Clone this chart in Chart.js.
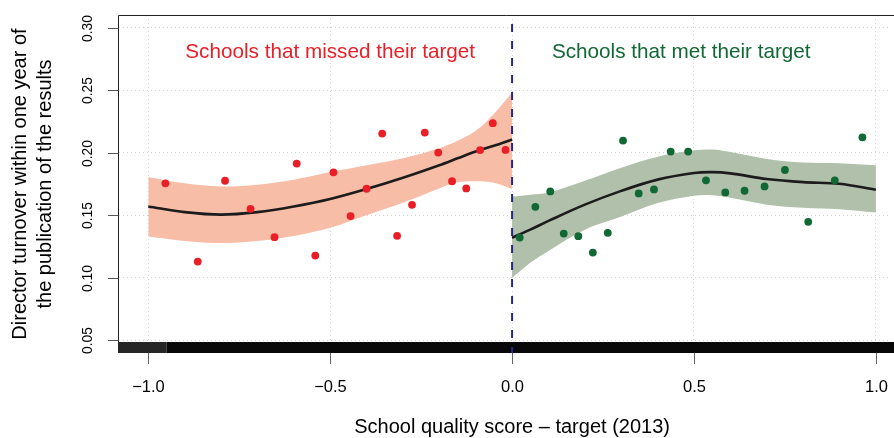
<!DOCTYPE html>
<html><head><meta charset="utf-8">
<script src="https://cdn.jsdelivr.net/npm/chart.js@4"></script>
<style>html,body{margin:0;padding:0;background:#fff}canvas{display:block}</style>
</head><body>
<canvas id="c" width="894" height="438"></canvas>
<script>
// ---- ticks & labels ----
const xTicks = [-1.0, -0.5, 0.0, 0.5, 1.0];
const xTickLabels = ['\u22121.0', '\u22120.5', '0.0', '0.5', '1.0'];
const yTicks = [0.05, 0.10, 0.15, 0.20, 0.25, 0.30];
const yTickLabels = ['0.05', '0.10', '0.15', '0.20', '0.25', '0.30'];
const xTitle = 'School quality score \u2013 target (2013)';
const yTitle = ['Director turnover within one year of', 'the publication of the results'];
const groupLabels = ['Schools that missed their target', 'Schools that met their target'];
const groupLabelX = [-0.5, 0.465];
const groupLabelY = [0.28, 0.28];
const cutoff = 0.0;
const xRange = [-1.0805, 1.0388];
const yRange = [0.04, 0.31];
const rugRange = [-1.0805, 1.08];
const rugDenseStart = -0.95;

// ---- binned means: schools that missed their target ----
const missedX = [-0.953, -0.864, -0.789, -0.719, -0.653, -0.592, -0.541, -0.491, -0.444, -0.400,
                 -0.357, -0.316, -0.275, -0.240, -0.203, -0.165, -0.126, -0.088, -0.053, -0.018];
const missedY = [0.1755, 0.113, 0.1776, 0.1552, 0.1325, 0.1913, 0.1178, 0.1843, 0.1494, 0.1712,
                 0.2153, 0.1336, 0.1584, 0.2161, 0.2001, 0.1772, 0.1715, 0.2021, 0.2236, 0.2022];

// ---- binned means: schools that met their target ----
const metX = [0.021, 0.064, 0.105, 0.142, 0.182, 0.222, 0.263, 0.305, 0.348, 0.390,
              0.436, 0.484, 0.533, 0.586, 0.639, 0.694, 0.750, 0.814, 0.887, 0.963];
const metY = [0.1322, 0.1568, 0.1691, 0.1354, 0.1333, 0.1202, 0.1360, 0.2097, 0.1675, 0.1707,
              0.2009, 0.2009, 0.1779, 0.1683, 0.1696, 0.1731, 0.1862, 0.1448, 0.1779, 0.2123];

// ---- local fit + confidence band (missed) ----
const missedFitX = [-1.0, -0.9, -0.8, -0.7, -0.6, -0.5, -0.4, -0.3, -0.2, -0.15, -0.1, -0.05, 0.0];
const missedFit  = [0.157, 0.1525, 0.1505, 0.1525, 0.157, 0.163, 0.171, 0.180, 0.190, 0.1955, 0.201, 0.2055, 0.2105];
const missedUp   = [0.1806, 0.1755, 0.173, 0.1745, 0.1784, 0.1845, 0.190, 0.1955, 0.2035, 0.2095, 0.2175, 0.231, 0.248];
const missedLo   = [0.133, 0.1295, 0.1278, 0.1295, 0.1335, 0.140, 0.150, 0.160, 0.1715, 0.1763, 0.1772, 0.176, 0.171];

// ---- local fit + confidence band (met) ----
const metFitX = [0.0, 0.05, 0.1, 0.2, 0.3, 0.4, 0.5, 0.55, 0.6, 0.7, 0.8, 0.9, 1.0];
const metFit  = [0.132, 0.1385, 0.1455, 0.1585, 0.1695, 0.1785, 0.1838, 0.1845, 0.1835, 0.179, 0.1765, 0.1752, 0.1704];
const metUp   = [0.165, 0.1665, 0.168, 0.1775, 0.188, 0.1968, 0.2019, 0.2025, 0.2005, 0.195, 0.1922, 0.1916, 0.1899];
const metLo   = [0.100, 0.112, 0.1215, 0.1385, 0.149, 0.1598, 0.1656, 0.166, 0.164, 0.1585, 0.156, 0.1548, 0.1522];

const pts = (xs, ys) => xs.map((x, i) => ({x, y: ys[i]}));
const FONT = '"Liberation Sans", Arial, Helvetica, sans-serif';
const RED = 'rgb(234,30,38)';
const GREEN = 'rgb(16,104,52)';

function band(xs, ys, fill, color, order) {
  return {data: pts(xs, ys), showLine: true, pointRadius: 0, borderWidth: 0, borderColor: 'rgba(0,0,0,0)',
          backgroundColor: color, fill: fill, tension: 0.35, order: order};
}
function fitLine(xs, ys) {
  return {data: pts(xs, ys), showLine: true, pointRadius: 0, borderWidth: 2.6, borderColor: '#1c1c1c',
          fill: false, tension: 0.35, order: 2};
}
function dots(xs, ys, color) {
  return {data: pts(xs, ys), pointRadius: 3.9, pointBorderWidth: 0, backgroundColor: color,
          borderColor: color, order: 1};
}

const decor = {
  id: 'decor',
  afterDatasetsDraw(chart) {
    const {ctx, chartArea: a, scales: {x, y}} = chart;
    ctx.save();
    // rug along the bottom edge (plot region continues past the canvas edge)
    const rugTop = a.bottom - 11;
    const r0 = x.getPixelForValue(rugRange[0]), r1 = x.getPixelForValue(rugDenseStart);
    const r2 = Math.max(x.getPixelForValue(rugRange[1]), chart.width);
    ctx.fillStyle = '#262626';
    ctx.fillRect(r0, rugTop, r1 - r0, a.bottom - rugTop);
    ctx.fillStyle = '#080808';
    ctx.fillRect(r1, rugTop, r2 - r1, a.bottom - rugTop);
    // cutoff line
    const cx = x.getPixelForValue(cutoff);
    ctx.strokeStyle = 'rgb(38,38,140)';
    ctx.lineWidth = 2;
    ctx.setLineDash([8, 9]);
    ctx.lineDashOffset = 8;
    ctx.beginPath(); ctx.moveTo(cx, a.top); ctx.lineTo(cx, a.bottom); ctx.stroke();
    ctx.setLineDash([]);
    // group labels
    ctx.font = '20.7px ' + FONT;
    ctx.textAlign = 'center';
    ctx.textBaseline = 'middle';
    const cols = [RED, GREEN];
    groupLabels.forEach((t, i) => {
      ctx.fillStyle = cols[i];
      ctx.fillText(t, x.getPixelForValue(groupLabelX[i]), y.getPixelForValue(groupLabelY[i]));
    });
    ctx.restore();
  },
  afterDraw(chart) {
    const {ctx, chartArea: a, scales: {x, y}} = chart;
    ctx.save();
    // box (top and left edges visible)
    ctx.strokeStyle = '#222';
    ctx.lineWidth = 1;
    ctx.beginPath();
    ctx.moveTo(a.left - 0.5, a.bottom); ctx.lineTo(a.left - 0.5, a.top + 0.5); ctx.lineTo(chart.width, a.top + 0.5);
    ctx.stroke();
    // x ticks and labels
    ctx.strokeStyle = '#666';
    ctx.fillStyle = '#000';
    ctx.font = '16.5px ' + FONT;
    ctx.textAlign = 'center';
    ctx.textBaseline = 'alphabetic';
    xTicks.forEach((v, i) => {
      const px = Math.round(x.getPixelForValue(v)) + 0.5;
      ctx.beginPath(); ctx.moveTo(px, a.bottom); ctx.lineTo(px, a.bottom + 11); ctx.stroke();
      ctx.fillText(xTickLabels[i], px, 392);
    });
    // y ticks and labels (rotated)
    ctx.strokeStyle = '#555';
    ctx.font = '13.8px ' + FONT;
    yTicks.forEach((v, i) => {
      const py = Math.round(y.getPixelForValue(v)) + 0.5;
      ctx.beginPath(); ctx.moveTo(a.left - 11, py); ctx.lineTo(a.left - 0.5, py); ctx.stroke();
      ctx.save();
      ctx.translate(92, py);
      ctx.rotate(-Math.PI / 2);
      ctx.fillText(yTickLabels[i], 0, 0);
      ctx.restore();
    });
    // axis titles
    ctx.font = '20px ' + FONT;
    ctx.fillText(xTitle, x.getPixelForValue(0), 433);
    const cy = (a.top + a.bottom) / 2;
    [26, 51].forEach((bx, i) => {
      ctx.save();
      ctx.translate(bx, cy);
      ctx.rotate(-Math.PI / 2);
      ctx.fillText(yTitle[i], 0, 0);
      ctx.restore();
    });
    ctx.restore();
  }
};

new Chart(document.getElementById('c'), {
  type: 'scatter',
  data: {
    datasets: [
      band(missedFitX, missedUp, '+1', 'rgb(248,189,166)', 3),
      band(missedFitX, missedLo, false, 'rgb(248,189,166)', 3),
      band(metFitX, metUp, '+1', 'rgb(176,192,170)', 3),
      band(metFitX, metLo, false, 'rgb(176,192,170)', 3),
      fitLine(missedFitX, missedFit),
      fitLine(metFitX, metFit),
      dots(missedX, missedY, RED),
      dots(metX, metY, GREEN)
    ]
  },
  options: {
    responsive: false,
    devicePixelRatio: 1,
    animation: false,
    layout: {padding: {left: 119, top: 15, right: 0, bottom: 85}},
    plugins: {legend: {display: false}, tooltip: {enabled: false}},
    scales: {
      x: {
        type: 'linear', min: xRange[0], max: xRange[1],
        afterBuildTicks: s => { s.ticks = xTicks.map(v => ({value: v})); },
        ticks: {display: false},
        grid: {color: '#d4d4d4', lineWidth: 1, drawTicks: false},
        border: {display: false, dash: [1, 3]}
      },
      y: {
        type: 'linear', min: yRange[0], max: yRange[1],
        afterBuildTicks: s => { s.ticks = yTicks.map(v => ({value: v})); },
        ticks: {display: false},
        grid: {color: '#d4d4d4', lineWidth: 1, drawTicks: false},
        border: {display: false, dash: [1, 3]}
      }
    }
  },
  plugins: [decor]
});
</script>
</body></html>
